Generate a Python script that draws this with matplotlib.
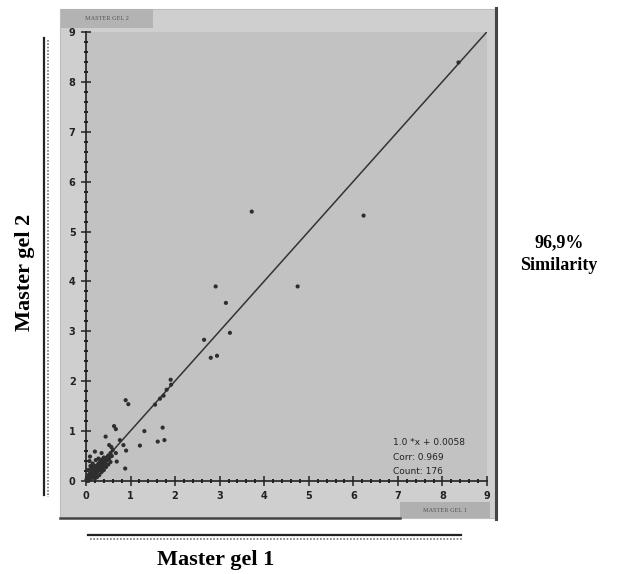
import numpy as np
import matplotlib
matplotlib.use("Agg")
import matplotlib.pyplot as plt
from matplotlib.patches import Rectangle
from matplotlib.lines import Line2D

# spot volumes, master gel 1 (x) vs master gel 2 (y)
gel1 = [8.36, 3.72, 6.23, 2.91, 4.75, 3.14, 3.23, 2.65, 2.94, 2.80,
        1.90, 1.91, 1.81, 1.74, 1.66, 1.55, 0.89, 0.95, 0.63, 0.67,
        1.31, 1.72, 1.76, 1.61, 1.21, 0.76, 0.84, 0.90, 0.88, 0.44,
        0.69, 0.67, 0.20, 0.09, 0.35, 0.52, 0.57,
        0.02, 0.03, 0.04, 0.05, 0.06, 0.07, 0.08, 0.09, 0.10, 0.11,
        0.12, 0.13, 0.14, 0.15, 0.16, 0.17, 0.18, 0.19, 0.20, 0.21,
        0.22, 0.23, 0.24, 0.25, 0.26, 0.27, 0.28, 0.29, 0.30, 0.31,
        0.32, 0.33, 0.34, 0.35, 0.36, 0.38, 0.40, 0.42, 0.44, 0.46,
        0.48, 0.50, 0.52, 0.55, 0.58, 0.60,
        0.05, 0.10, 0.08, 0.15, 0.22, 0.28, 0.12, 0.18,
        0.20, 0.30, 0.35, 0.40, 0.45, 0.25, 0.50, 0.55,
        0.01, 0.03, 0.06, 0.09, 0.14, 0.11, 0.16, 0.07,
        0.04, 0.08, 0.12, 0.16, 0.20, 0.24, 0.28, 0.32, 0.36, 0.40,
        0.06, 0.10, 0.14, 0.18, 0.22, 0.26, 0.30, 0.34, 0.38, 0.43]
gel2 = [8.39, 5.40, 5.32, 3.90, 3.90, 3.57, 2.97, 2.83, 2.51, 2.47,
        2.03, 1.93, 1.83, 1.71, 1.65, 1.53, 1.62, 1.54, 1.10, 1.04,
        1.00, 1.07, 0.82, 0.79, 0.71, 0.82, 0.72, 0.61, 0.25, 0.89,
        0.39, 0.56, 0.59, 0.49, 0.56, 0.72, 0.68,
        0.01, 0.04, 0.02, 0.06, 0.03, 0.08, 0.05, 0.10, 0.07, 0.12,
        0.09, 0.14, 0.10, 0.16, 0.12, 0.18, 0.14, 0.20, 0.15, 0.22,
        0.17, 0.24, 0.19, 0.27, 0.21, 0.29, 0.23, 0.31, 0.25, 0.33,
        0.27, 0.36, 0.29, 0.38, 0.31, 0.40, 0.35, 0.44, 0.39, 0.47,
        0.42, 0.51, 0.45, 0.56, 0.50, 0.62,
        0.22, 0.30, 0.40, 0.35, 0.42, 0.45, 0.25, 0.30,
        0.05, 0.12, 0.18, 0.22, 0.28, 0.08, 0.33, 0.38,
        0.03, 0.00, 0.01, 0.04, 0.07, 0.15, 0.09, 0.13,
        0.09, 0.14, 0.18, 0.23, 0.27, 0.31, 0.35, 0.39, 0.43, 0.47,
        0.01, 0.04, 0.08, 0.11, 0.15, 0.19, 0.22, 0.26, 0.30, 0.34]

slope = 1.0
intercept = 0.0058
corr = 0.969
count = 176

W, H = 622, 574
fig = plt.figure(figsize=(W / 100, H / 100), dpi=100)
fig.patch.set_facecolor("white")

def fx(px):
    return px / W

def fy(py):
    return 1 - py / H

# panel frame
fig.patches.append(Rectangle((fx(60), fy(518)), fx(495) - fx(60), fy(9) - fy(518),
                             transform=fig.transFigure, facecolor="#cfcfcf",
                             edgecolor="#bdbdbd", lw=0.8, zorder=-2))
fig.patches.append(Rectangle((fx(61), fy(28)), fx(153) - fx(61), fy(9) - fy(28),
                             transform=fig.transFigure, facecolor="#b3b3b3",
                             edgecolor="none", zorder=-1))
fig.patches.append(Rectangle((fx(400), fy(518)), fx(490) - fx(400), fy(502) - fy(518),
                             transform=fig.transFigure, facecolor="#b0b0b0",
                             edgecolor="none", zorder=-1))
fig.text(fx(107), fy(18.5), "MASTER GEL 2", fontsize=4.5, family="Liberation Serif",
         color="#555555", ha="center", va="center")
fig.text(fx(445), fy(510), "MASTER GEL 1", fontsize=4.5, family="Liberation Serif",
         color="#555555", ha="center", va="center")
fig.lines.append(Line2D([fx(496), fx(496)], [fy(8), fy(519)], transform=fig.transFigure,
                        color="#444444", lw=2.2, zorder=3))
fig.lines.append(Line2D([fx(60), fx(400)], [fy(518), fy(518)], transform=fig.transFigure,
                        color="#444444", lw=1.8, zorder=3))

# rulers outside the panel
fig.lines.append(Line2D([fx(44), fx(44)], [fy(38), fy(495)], transform=fig.transFigure,
                        color="#222222", lw=1.6))
fig.lines.append(Line2D([fx(47.5), fx(47.5)], [fy(40), fy(497)], transform=fig.transFigure,
                        color="#777777", lw=1.2, ls=(0, (1, 1))))
fig.lines.append(Line2D([fx(88), fx(461)], [fy(535), fy(535)], transform=fig.transFigure,
                        color="#222222", lw=1.6))
fig.lines.append(Line2D([fx(90), fx(463)], [fy(538.5), fy(538.5)], transform=fig.transFigure,
                        color="#777777", lw=1.2, ls=(0, (1, 1))))

ax = fig.add_axes([fx(86), fy(481), fx(487) - fx(86), fy(32) - fy(481)])
ax.set_zorder(1)
ax.set_facecolor("#c2c2c2")
ax.set_xlim(0, 9)
ax.set_ylim(0, 9)
for s in ["top", "right"]:
    ax.spines[s].set_visible(False)
for s in ["left", "bottom"]:
    ax.spines[s].set_color("#222222")
    ax.spines[s].set_linewidth(1.2)
ax.set_xticks(range(10))
ax.set_yticks(range(10))
ax.set_xticks(np.arange(0, 9.01, 0.2), minor=True)
ax.set_yticks(np.arange(0, 9.01, 0.2), minor=True)
ax.tick_params(which="major", direction="inout", length=7, width=1.1, color="#222222",
               labelsize=7, labelcolor="#222222", pad=4)
ax.tick_params(which="minor", direction="inout", length=3.5, width=1.4, color="#222222")
for lab in ax.get_xticklabels() + ax.get_yticklabels():
    lab.set_fontweight("bold")

xs = np.array([0, 9])
ax.plot(xs, slope * xs + intercept, color="#333333", lw=1.1, zorder=2)
ax.scatter(gel1, gel2, s=9, color="#2e2e2e", edgecolors="none", zorder=3, clip_on=False)

ax.text(6.9, 0.78, f"{slope:.1f} *x + {intercept}", fontsize=6.5, color="#222222", va="center")
ax.text(6.9, 0.48, f"Corr: {corr}", fontsize=6.5, color="#222222", va="center")
ax.text(6.9, 0.19, f"Count: {count}", fontsize=6.5, color="#222222", va="center")

fig.text(fx(25), fy(272), "Master gel 2", rotation=90, fontsize=16, fontweight="bold",
         family="Liberation Serif", ha="center", va="center")
fig.text(fx(216), fy(560), "Master gel 1", fontsize=16, fontweight="bold",
         family="Liberation Serif", ha="center", va="center")
fig.text(fx(559), fy(254), "96,9%\nSimilarity", fontsize=13, fontweight="bold",
         family="Liberation Serif", ha="center", va="center", linespacing=1.4)

fig.savefig("out.png", dpi=100)
